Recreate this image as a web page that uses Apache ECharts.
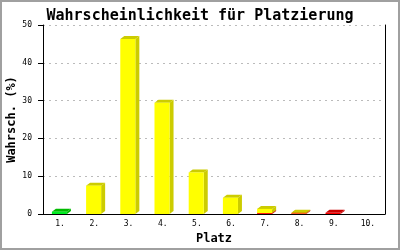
<!DOCTYPE html>
<html><head><meta charset="utf-8">
<script src="https://cdn.jsdelivr.net/npm/echarts@6/dist/echarts.min.js"></script>
<style>html,body{margin:0;padding:0;background:#fff}#c{width:400px;height:250px}</style>
</head><body><div id="c"></div>
<script>
var categories = ['1.','2.','3.','4.','5.','6.','7.','8.','9.','10.'];
var redValues    = [0, 0, 0, 0, 0, 0, 0.25, 0.2, 0.3, 0];
var yellowValues = [0, 7.5, 46.3, 29.4, 11.0, 4.3, 1.1, 0.1, 0, 0];
var greenValues  = [0.6, 0, 0, 0, 0, 0, 0, 0, 0, 0];
var titleText = 'Wahrscheinlichkeit für Platzierung';
var xName = 'Platz';
var yName = 'Wahrsch. (%)';

var FONT = '"DejaVu Sans Mono", monospace';
var stackDefs = [
  {name:'rot', values: redValues, front:'#ff0000', dark:'#cc0000'},
  {name:'gelb', values: yellowValues, front:'#ffff00', dark:'#cccc00'},
  {name:'grün', values: greenValues, front:'#00ee22', dark:'#00bb00'}
];
var bases = categories.map(function(){return 0;});
var series = stackDefs.map(function(d){
  var data = categories.map(function(c,i){
    var b = bases[i], t = b + d.values[i];
    bases[i] = t;
    return [i, b, t];
  });
  return {
    type:'custom', name:d.name, data:data, encode:{x:0,y:2}, clip:false,
    renderItem:function(params, api){
      var idx = api.value(0), base = api.value(1), top = api.value(2);
      if (!(top - base > 0)) return null;
      var p0 = api.coord([idx, base]);
      var p1 = api.coord([idx, top]);
      var band = api.size([1,0])[0];
      var fw = band*0.44, dx = 4, dy = 3;
      var xl = p0[0] - band*0.24, xr = xl + fw;
      var yb = p0[1], yt = p1[1];
      return {type:'group', children:[
        {type:'polygon', shape:{points:[[xr,yb],[xr+dx,yb-dy],[xr+dx,yt-dy],[xr,yt]]}, style:{fill:d.dark}},
        {type:'polygon', shape:{points:[[xl,yt],[xl+dx,yt-dy],[xr+dx,yt-dy],[xr,yt]]}, style:{fill:d.dark}},
        {type:'rect', shape:{x:xl,y:yt,width:fw,height:yb-yt}, style:{fill:d.front}}
      ]};
    }
  };
});

var chart = echarts.init(document.getElementById('c'), null, {renderer:'canvas'});
chart.setOption({
  animation:false,
  backgroundColor:'#fff',
  title:{text:titleText, left:'center', top:4, textStyle:{fontFamily:FONT, fontSize:15, fontWeight:'bold', color:'#000'}},
  grid:{left:43, right:15, top:25, bottom:36, containLabel:false, outerBoundsMode:'none'},
  xAxis:{type:'category', data:categories, name:xName, nameLocation:'middle', nameGap:19, nameMoveOverlap:false,
    nameTextStyle:{fontFamily:FONT, fontSize:12, fontWeight:'bold', color:'#000'},
    axisLine:{lineStyle:{color:'#000', width:1}}, axisTick:{show:false},
    axisLabel:{fontFamily:FONT, fontSize:8, color:'#000', margin:6}},
  yAxis:[{type:'value', min:0, max:50, interval:10, name:yName, nameLocation:'middle', nameGap:25, nameMoveOverlap:false,
    nameTextStyle:{fontFamily:FONT, fontSize:12, fontWeight:'bold', color:'#000'},
    axisLine:{show:true, lineStyle:{color:'#000', width:1}},
    axisTick:{show:true, length:5, lineStyle:{color:'#000'}},
    axisLabel:{fontFamily:FONT, fontSize:8, color:'#000', margin:11},
    splitLine:{show:true, lineStyle:{color:'#bbbbbb', type:[2,4], width:1}}},
    {type:'value', min:0, max:50, interval:10, position:'right',
    axisLine:{show:true, lineStyle:{color:'#000', width:1}}, axisTick:{show:false}, axisLabel:{show:false}, splitLine:{show:false}}],
  graphic:[{type:'rect', shape:{x:1,y:1,width:398,height:248}, style:{fill:'none', stroke:'#a0a0a0', lineWidth:2}, silent:true}],
  series:series
});
</script></body></html>
